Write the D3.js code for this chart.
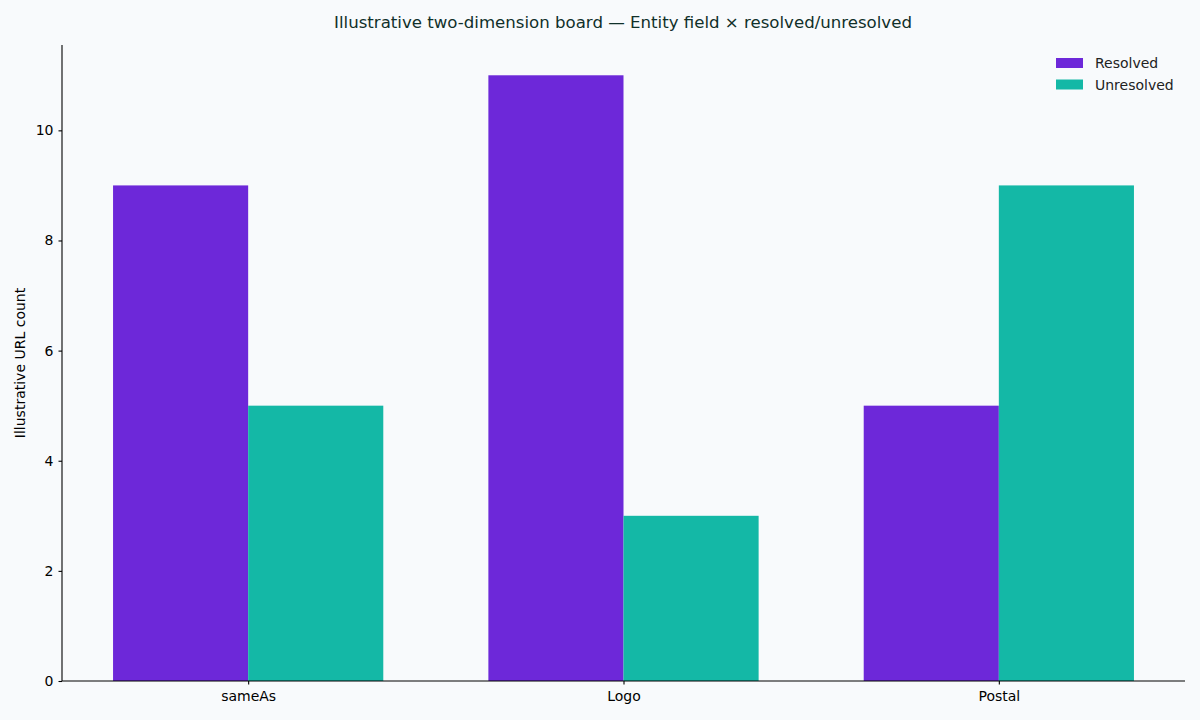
<!DOCTYPE html>
<html>
<head>
<meta charset="utf-8">
<script src="https://cdn.jsdelivr.net/npm/d3@7"></script>
<style>
  body { margin: 0; background: #f8fafc; }
  svg { display: block; font-family: "DejaVu Sans", sans-serif; }
</style>
</head>
<body>
<script>
// chart data
var categories = ['sameAs', 'Logo', 'Postal'];
var resolved = [9, 11, 5];
var unresolved = [5, 3, 9];
var seriesNames = ['Resolved', 'Unresolved'];
var seriesColors = ['#6d28d9', '#14b8a6'];
var yTicks = [0, 2, 4, 6, 8, 10];

var width = 1200, height = 720;
var margin = {left: 62, right: 15, top: 45, bottom: 39};

var svg = d3.select('body').append('svg')
  .attr('width', width).attr('height', height);

svg.append('rect').attr('width', width).attr('height', height).attr('fill', '#f8fafc');

// bar width 0.36 per series, like matplotlib with 5% margins
var barW = 0.36;
var xMin = -barW, xMax = categories.length - 1 + barW;
var pad = (xMax - xMin) * 0.05;
var x = d3.scaleLinear()
  .domain([xMin - pad, xMax + pad])
  .range([margin.left, width - margin.right]);

var yMaxVal = d3.max(resolved.concat(unresolved));
var y = d3.scaleLinear()
  .domain([0, yMaxVal * 1.05])
  .range([height - margin.bottom, margin.top]);

var series = [resolved, unresolved];
series.forEach(function(vals, s) {
  svg.append('g').selectAll('rect')
    .data(vals)
    .enter().append('rect')
    .attr('x', function(d, i) { return x(i - barW + s * barW); })
    .attr('width', function() { return x(barW) - x(0); })
    .attr('y', function(d) { return y(d); })
    .attr('height', function(d) { return y(0) - y(d); })
    .attr('fill', seriesColors[s]);
});

// axes
var xAxis = d3.axisBottom(x)
  .tickValues(d3.range(categories.length))
  .tickFormat(function(d) { return categories[d]; })
  .tickSize(3.5).tickPadding(7);
var gx = svg.append('g')
  .attr('transform', 'translate(0,' + y(0) + ')')
  .call(xAxis);
gx.select('.domain').attr('d', 'M' + x.range()[0] + ',0H' + x.range()[1]);

var yAxis = d3.axisLeft(y).tickValues(yTicks).tickSize(3.5).tickPadding(5);
var gy = svg.append('g')
  .attr('transform', 'translate(' + margin.left + ',0)')
  .call(yAxis);
gy.select('.domain').attr('d', 'M0,' + y.range()[0] + 'V' + y.range()[1]);

svg.selectAll('.tick text').attr('font-size', 14).attr('fill', '#000')
  .attr('font-family', '"DejaVu Sans", sans-serif');
svg.selectAll('.domain, .tick line').attr('stroke', '#000').attr('stroke-width', 1.1);

// labels
svg.append('text')
  .attr('x', 623).attr('y', 28)
  .attr('text-anchor', 'middle')
  .attr('font-size', 16.6)
  .attr('fill', '#10302a')
  .text('Illustrative two-dimension board — Entity field × resolved/unresolved');

svg.append('text')
  .attr('transform', 'translate(25,' + ((margin.top + height - margin.bottom) / 2) + ') rotate(-90)')
  .attr('text-anchor', 'middle')
  .attr('font-size', 14)
  .attr('fill', '#000')
  .text('Illustrative URL count');

// legend
var legend = svg.append('g').attr('transform', 'translate(1056,58)');
seriesNames.forEach(function(name, i) {
  legend.append('rect')
    .attr('x', 0).attr('y', i * 21.5)
    .attr('width', 27).attr('height', 10)
    .attr('fill', seriesColors[i]);
  legend.append('text')
    .attr('x', 39).attr('y', i * 21.5 + 10)
    .attr('font-size', 14)
    .attr('fill', '#222')
    .text(name);
});
</script>
</body>
</html>
